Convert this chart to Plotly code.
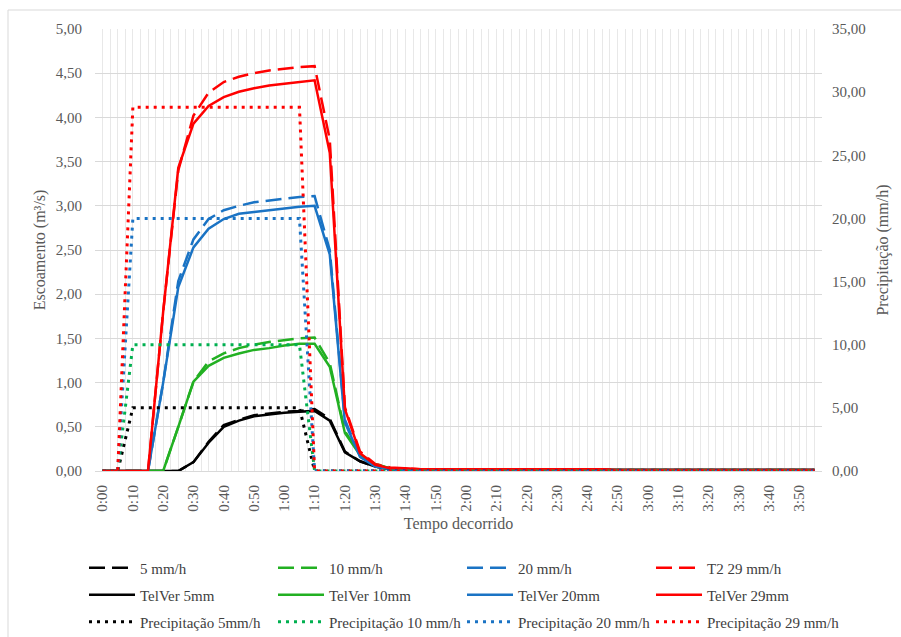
import plotly.graph_objects as go

# ---------------- data ----------------
time_min = [0, 5, 10, 15, 20, 25, 30, 35, 40, 45,
            50, 55, 60, 65, 70, 75, 80, 85, 90, 95,
            100, 105, 110, 115, 120, 125, 130, 135, 140, 145,
            150, 155, 160, 165, 170, 175, 180, 185, 190, 195,
            200, 205, 210, 215, 220, 225, 230, 235]

tick_vals = [0, 10, 20, 30, 40, 50, 60, 70, 80, 90, 100, 110,
             120, 130, 140, 150, 160, 170, 180, 190, 200, 210, 220, 230]
tick_labels = ["0:00", "0:10", "0:20", "0:30", "0:40", "0:50", "1:00", "1:10",
               "1:20", "1:30", "1:40", "1:50", "2:00", "2:10", "2:20", "2:30",
               "2:40", "2:50", "3:00", "3:10", "3:20", "3:30", "3:40", "3:50"]

# runoff, measured (dashed)
q5 = [0, 0, 0, 0, 0, 0, 0.10, 0.33, 0.52, 0.58,
      0.63, 0.65, 0.67, 0.68, 0.70, 0.59, 0.22, 0.11, 0.05, 0.02,
      0.01, 0.01, 0.01, 0.01, 0.01, 0.01, 0.01, 0.01, 0.01, 0.01,
      0.01, 0.01, 0.01, 0.01, 0.01, 0.01, 0.01, 0.01, 0.01, 0.01,
      0.01, 0.01, 0.01, 0.01, 0.01, 0.01, 0.01, 0.01]
q10 = [0, 0, 0, 0, 0, 0.50, 1.01, 1.24, 1.33, 1.39,
       1.43, 1.46, 1.48, 1.50, 1.51, 1.22, 0.45, 0.19, 0.08, 0.03,
       0.01, 0.01, 0.01, 0.01, 0.01, 0.01, 0.01, 0.01, 0.01, 0.01,
       0.01, 0.01, 0.01, 0.01, 0.01, 0.01, 0.01, 0.01, 0.01, 0.01,
       0.01, 0.01, 0.01, 0.01, 0.01, 0.01, 0.01, 0.01]
q20 = [0, 0, 0, 0, 1.00, 2.15, 2.62, 2.85, 2.95, 3.00,
       3.04, 3.06, 3.08, 3.10, 3.11, 2.50, 0.58, 0.17, 0.06, 0.03,
       0.01, 0.01, 0.01, 0.01, 0.01, 0.01, 0.01, 0.01, 0.01, 0.01,
       0.01, 0.01, 0.01, 0.01, 0.01, 0.01, 0.01, 0.01, 0.01, 0.01,
       0.01, 0.01, 0.01, 0.01, 0.01, 0.01, 0.01, 0.01]
q29 = [0, 0, 0, 0, 1.80, 3.40, 4.02, 4.28, 4.40, 4.46,
       4.50, 4.53, 4.55, 4.57, 4.58, 3.75, 0.72, 0.22, 0.08, 0.04,
       0.03, 0.02, 0.02, 0.02, 0.02, 0.02, 0.02, 0.02, 0.02, 0.02,
       0.02, 0.02, 0.02, 0.02, 0.01, 0.01, 0.01, 0.01, 0.01, 0.01,
       0.01, 0.01, 0.01, 0.01, 0.01, 0.01, 0.01, 0.01]

# runoff, TelVer (solid)
tv5 = [0, 0, 0, 0, 0, 0, 0.10, 0.32, 0.50, 0.57,
       0.62, 0.64, 0.66, 0.67, 0.68, 0.57, 0.21, 0.11, 0.05, 0.02,
       0.01, 0.01, 0.01, 0.01, 0.01, 0.01, 0.01, 0.01, 0.01, 0.01,
       0.01, 0.01, 0.01, 0.01, 0.01, 0.01, 0.01, 0.01, 0.01, 0.01,
       0.01, 0.01, 0.01, 0.01, 0.01, 0.01, 0.01, 0.01]
tv10 = [0, 0, 0, 0, 0, 0.50, 1.01, 1.19, 1.28, 1.33,
        1.37, 1.39, 1.42, 1.44, 1.44, 1.18, 0.43, 0.18, 0.07, 0.03,
        0.01, 0.01, 0.01, 0.01, 0.01, 0.01, 0.01, 0.01, 0.01, 0.01,
        0.01, 0.01, 0.01, 0.01, 0.01, 0.01, 0.01, 0.01, 0.01, 0.01,
        0.01, 0.01, 0.01, 0.01, 0.01, 0.01, 0.01, 0.01]
tv20 = [0, 0, 0, 0, 1.00, 2.08, 2.53, 2.74, 2.85, 2.91,
        2.93, 2.95, 2.97, 2.99, 3.00, 2.45, 0.55, 0.16, 0.05, 0.02,
        0.01, 0.01, 0.01, 0.01, 0.01, 0.01, 0.01, 0.01, 0.01, 0.01,
        0.01, 0.01, 0.01, 0.01, 0.01, 0.01, 0.01, 0.01, 0.01, 0.01,
        0.01, 0.01, 0.01, 0.01, 0.01, 0.01, 0.01, 0.01]
tv29 = [0, 0, 0, 0, 1.80, 3.43, 3.93, 4.13, 4.23, 4.29,
        4.33, 4.36, 4.38, 4.40, 4.42, 3.60, 0.70, 0.20, 0.07, 0.03,
        0.03, 0.02, 0.02, 0.02, 0.02, 0.02, 0.02, 0.02, 0.02, 0.02,
        0.02, 0.02, 0.02, 0.02, 0.01, 0.01, 0.01, 0.01, 0.01, 0.01,
        0.01, 0.01, 0.01, 0.01, 0.01, 0.01, 0.01, 0.01]

# precipitation (right axis, dotted)
p5 = [0, 0, 5, 5, 5, 5, 5, 5, 5, 5,
      5, 5, 5, 5, 0, 0, 0, 0, 0, 0,
      0, 0, 0, 0, 0, 0, 0, 0, 0, 0,
      0, 0, 0, 0, 0, 0, 0, 0, 0, 0,
      0, 0, 0, 0, 0, 0, 0, 0]
p10 = [0, 0, 10, 10, 10, 10, 10, 10, 10, 10,
       10, 10, 10, 10, 0, 0, 0, 0, 0, 0,
       0, 0, 0, 0, 0, 0, 0, 0, 0, 0,
       0, 0, 0, 0, 0, 0, 0, 0, 0, 0,
       0, 0, 0, 0, 0, 0, 0, 0]
p20 = [0, 0, 20, 20, 20, 20, 20, 20, 20, 20,
       20, 20, 20, 20, 0, 0, 0, 0, 0, 0,
       0, 0, 0, 0, 0, 0, 0, 0, 0, 0,
       0, 0, 0, 0, 0, 0, 0, 0, 0, 0,
       0, 0, 0, 0, 0, 0, 0, 0]
p29 = [0, 0, 28.8, 28.8, 28.8, 28.8, 28.8, 28.8, 28.8, 28.8,
       28.8, 28.8, 28.8, 28.8, 0, 0, 0, 0, 0, 0,
       0, 0, 0, 0, 0, 0, 0, 0, 0, 0,
       0, 0, 0, 0, 0, 0, 0, 0, 0, 0,
       0, 0, 0, 0, 0, 0, 0, 0]

# ---------------- styles ----------------
BLACK = "#000000"
GREEN = "#22b022"
GREEN_DOT = "#00b050"
BLUE = "#1a73c4"
RED = "#ff0000"
FONT = "Liberation Serif"
GREY = "#595959"
DASH = "16px,7px"
DOT = "3px,5px"

fig = go.Figure()

dashed = [("5 mm/h", q5, BLACK), ("10 mm/h", q10, GREEN),
          ("20 mm/h", q20, BLUE), ("T2 29 mm/h", q29, RED)]
solid = [("TelVer 5mm", tv5, BLACK), ("TelVer 10mm", tv10, GREEN),
         ("TelVer 20mm", tv20, BLUE), ("TelVer 29mm", tv29, RED)]
dotted = [("Precipitação 5mm/h", p5, BLACK), ("Precipitação 10 mm/h", p10, GREEN_DOT),
          ("Precipitação 20 mm/h", p20, BLUE), ("Precipitação 29 mm/h", p29, RED)]

for name, ys, col in dashed:
    fig.add_trace(go.Scatter(x=time_min, y=ys, name=name, mode="lines",
                             line=dict(color=col, width=2.5, dash=DASH),
                             legend="legend"))
for name, ys, col in solid:
    fig.add_trace(go.Scatter(x=time_min, y=ys, name=name, mode="lines",
                             line=dict(color=col, width=2.5),
                             legend="legend2"))
for name, ys, col in dotted:
    fig.add_trace(go.Scatter(x=time_min, y=ys, name=name, mode="lines",
                             line=dict(color=col, width=3, dash=DOT),
                             yaxis="y2", legend="legend3"))

L, R, T, B = 95, 79, 29, 166
W, H = 901, 637
pw, ph = W - L - R, H - T - B


def px_x(px):
    return (px - L) / pw


def px_y(py):
    return (H - B - py) / ph


legend_common = dict(orientation="h", xanchor="left", yanchor="middle",
                     entrywidth=128, entrywidthmode="pixels",
                     itemwidth=46,
                     font=dict(family=FONT, size=15, color="#404040"),
                     bgcolor="rgba(0,0,0,0)", borderwidth=0)

fig.update_layout(
    width=W, height=H,
    margin=dict(l=L, r=R, t=T, b=B, autoexpand=False),
    paper_bgcolor="white", plot_bgcolor="white",
    separators=",.",
    font=dict(family=FONT, size=15, color=GREY),
    xaxis=dict(range=[-2.5, 237.5], tickmode="array", tickvals=tick_vals,
               ticktext=tick_labels, tickangle=-90,
               tickfont=dict(family=FONT, size=15, color=GREY),
               showgrid=True, gridcolor="#e8e8e8", gridwidth=1,
               minor=dict(tickmode="linear", tick0=0, dtick=2.5,
                          showgrid=True, gridcolor="#e8e8e8", gridwidth=1),
               zeroline=False, showline=True, linecolor="#d9d9d9",
               ticks="", ticklabelstandoff=7,
               title=dict(text="Tempo decorrido",
                          font=dict(family=FONT, size=16, color=GREY),
                          standoff=7)),
    yaxis=dict(range=[0, 5], dtick=0.5, tickformat=".2f",
               tickfont=dict(family=FONT, size=15, color=GREY),
               showgrid=True, gridcolor="#d9d9d9", zeroline=False,
               ticks="", ticklabelstandoff=12,
               title=dict(text="Escoamento (m³/s)",
                          font=dict(family=FONT, size=16, color=GREY),
                          standoff=6)),
    yaxis2=dict(range=[0, 35], dtick=5, tickformat=".2f", overlaying="y",
                side="right", showgrid=False, zeroline=False,
                tickfont=dict(family=FONT, size=15, color=GREY),
                ticks="", ticklabelstandoff=9,
                title=dict(text="Precipitação (mm/h)",
                           font=dict(family=FONT, size=16, color=GREY),
                           standoff=12)),
    legend=dict(x=px_x(84), y=px_y(568), **legend_common),
    legend2=dict(x=px_x(84), y=px_y(595), **legend_common),
    legend3=dict(x=px_x(84), y=px_y(622), **legend_common),
    shapes=[dict(type="rect", xref="paper", yref="paper",
                 x0=px_x(8), x1=px_x(906), y0=px_y(642), y1=px_y(10),
                 line=dict(color="#d9d9d9", width=1), layer="below")],
)

fig.write_html("out.html")
